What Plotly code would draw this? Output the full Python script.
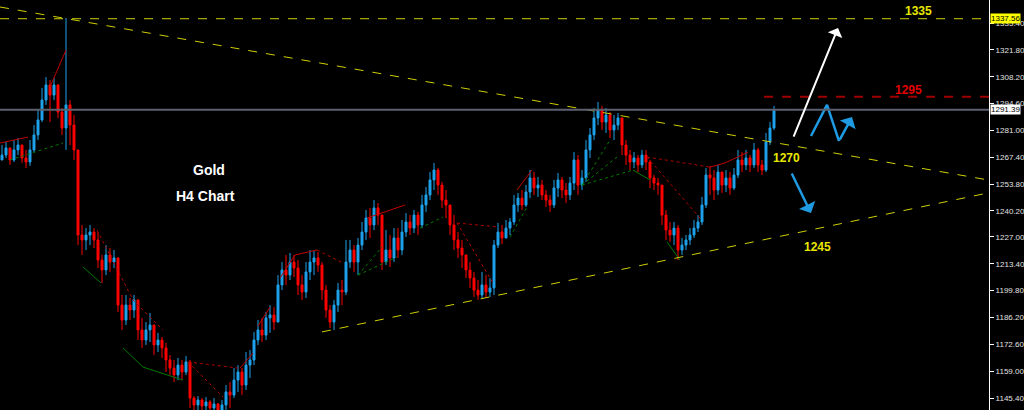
import plotly.graph_objects as go

# ---------------- price data (Gold H4) ----------------
open_first = 1266.0
close = [1268.5, 1272.1, 1266.0, 1271.1, 1273.6, 1267.0, 1265.0, 1271.1, 1278.7, 1286.3,
         1296.4, 1304.0, 1298.9, 1304.0, 1290.3, 1282.2, 1293.9, 1283.7, 1271.1, 1228.0,
         1225.5, 1228.0, 1229.5, 1225.5, 1215.3, 1210.3, 1217.9, 1214.3, 1216.4, 1192.5,
         1184.9, 1192.5, 1190.0, 1195.1, 1179.9, 1174.8, 1179.9, 1182.4, 1172.3, 1174.8,
         1170.8, 1164.7, 1160.6, 1157.1, 1162.1, 1158.6, 1163.7, 1145.4, 1141.9, 1144.4,
         1141.4, 1143.4, 1140.4, 1142.4, 1139.3, 1141.9, 1148.5, 1146.9, 1154.5, 1158.6,
         1152.0, 1162.1, 1164.7, 1174.8, 1179.9, 1177.3, 1186.0, 1187.5, 1183.9, 1202.7,
         1210.3, 1207.7, 1214.3, 1211.3, 1202.7, 1199.1, 1209.3, 1214.3, 1216.4, 1212.8,
         1200.1, 1190.0, 1183.9, 1192.5, 1200.1, 1199.1, 1214.3, 1220.4, 1214.3, 1222.9,
         1229.5, 1236.6, 1233.1, 1241.7, 1238.1, 1214.3, 1220.4, 1216.4, 1226.5, 1220.4,
         1229.5, 1234.6, 1231.5, 1238.1, 1233.1, 1243.2, 1248.3, 1255.9, 1260.9, 1253.3,
         1245.7, 1243.2, 1233.1, 1225.5, 1221.4, 1217.9, 1210.3, 1206.2, 1200.1, 1197.6,
         1202.7, 1199.1, 1201.2, 1222.9, 1229.5, 1226.5, 1231.5, 1234.6, 1243.2, 1246.7,
         1243.2, 1249.8, 1256.9, 1251.8, 1253.3, 1248.3, 1245.7, 1243.2, 1251.8, 1255.9,
         1250.8, 1248.3, 1254.3, 1266.0, 1253.3, 1256.9, 1271.1, 1278.7, 1287.3, 1291.3,
         1285.2, 1288.8, 1281.2, 1283.7, 1287.3, 1273.6, 1268.5, 1265.0, 1267.0, 1263.5,
         1268.5, 1265.0, 1256.9, 1254.3, 1253.3, 1238.1, 1230.5, 1228.0, 1231.5, 1220.4,
         1222.9, 1225.5, 1228.0, 1231.5, 1234.6, 1243.2, 1258.4, 1256.9, 1250.8, 1259.9,
         1253.3, 1256.9, 1251.8, 1258.4, 1266.0, 1263.5, 1267.0, 1263.5, 1271.1, 1263.5,
         1260.9, 1275.1, 1282.2, 1291.39]
high = [1273.6, 1275.1, 1272.1, 1276.1, 1277.1, 1273.6, 1271.1, 1276.1, 1283.7, 1291.3,
        1302.5, 1308.0, 1306.5, 1307.5, 1304.5, 1292.3, 1337.9, 1296.4, 1288.8, 1258.4,
        1233.1, 1231.5, 1233.1, 1231.5, 1229.5, 1217.9, 1222.9, 1221.4, 1220.4, 1216.4,
        1197.6, 1197.6, 1196.1, 1197.6, 1195.1, 1186.0, 1183.9, 1188.5, 1182.4, 1178.4,
        1176.3, 1173.3, 1167.2, 1164.7, 1165.7, 1164.7, 1166.7, 1164.7, 1146.4, 1146.4,
        1145.4, 1145.9, 1144.4, 1145.4, 1142.9, 1144.4, 1152.0, 1153.5, 1160.6, 1162.1,
        1160.6, 1168.7, 1169.7, 1178.9, 1184.9, 1186.0, 1189.0, 1192.5, 1191.5, 1207.7,
        1214.3, 1217.9, 1218.9, 1217.9, 1215.3, 1207.7, 1214.3, 1220.4, 1220.4, 1219.4,
        1214.3, 1202.7, 1192.5, 1195.1, 1203.7, 1205.2, 1225.5, 1225.5, 1222.9, 1226.5,
        1234.6, 1240.7, 1241.7, 1245.7, 1244.2, 1238.1, 1230.5, 1228.0, 1231.5, 1231.5,
        1235.6, 1239.1, 1238.1, 1240.7, 1239.7, 1248.3, 1252.3, 1259.9, 1264.5, 1261.9,
        1254.9, 1250.8, 1243.2, 1238.1, 1229.5, 1225.5, 1217.9, 1214.3, 1209.3, 1205.2,
        1209.3, 1207.7, 1206.2, 1225.5, 1234.1, 1233.1, 1235.6, 1236.6, 1248.3, 1249.3,
        1250.8, 1253.3, 1260.9, 1259.9, 1257.4, 1255.9, 1250.8, 1248.3, 1255.9, 1259.4,
        1257.4, 1254.3, 1257.4, 1270.0, 1268.5, 1260.9, 1276.1, 1282.2, 1292.3, 1295.4,
        1293.4, 1292.3, 1290.3, 1288.8, 1289.8, 1287.3, 1276.1, 1271.1, 1270.0, 1268.5,
        1271.1, 1271.1, 1266.0, 1258.4, 1256.9, 1253.3, 1240.7, 1234.6, 1234.6, 1233.1,
        1226.5, 1228.0, 1231.5, 1235.6, 1238.1, 1247.3, 1261.9, 1263.0, 1260.9, 1263.5,
        1259.9, 1260.9, 1259.9, 1261.9, 1271.1, 1270.0, 1271.1, 1268.5, 1274.6, 1272.1,
        1266.0, 1279.7, 1285.2, 1293.4]
low = [1266.0, 1267.0, 1263.5, 1265.0, 1268.5, 1264.5, 1261.9, 1263.0, 1270.0, 1276.1,
       1285.2, 1293.9, 1285.2, 1296.4, 1287.3, 1278.7, 1271.1, 1273.6, 1266.0, 1222.9,
       1217.9, 1220.4, 1222.9, 1221.4, 1211.3, 1203.7, 1207.7, 1209.3, 1211.3, 1189.0,
       1179.9, 1182.4, 1184.9, 1186.0, 1174.8, 1170.8, 1172.3, 1173.8, 1167.2, 1168.7,
       1165.7, 1158.6, 1157.1, 1153.5, 1154.5, 1154.5, 1157.1, 1140.4, 1136.8, 1138.3,
       1136.8, 1138.3, 1135.3, 1136.8, 1134.3, 1134.3, 1138.3, 1140.4, 1145.4, 1148.5,
       1146.9, 1149.5, 1155.6, 1162.1, 1172.3, 1173.8, 1174.8, 1178.4, 1179.9, 1186.0,
       1200.1, 1202.7, 1205.2, 1206.7, 1197.6, 1195.1, 1196.1, 1205.2, 1207.7, 1209.3,
       1195.1, 1186.0, 1180.9, 1179.9, 1189.0, 1192.5, 1197.6, 1211.3, 1209.3, 1207.7,
       1220.4, 1225.5, 1226.5, 1230.5, 1233.1, 1210.3, 1212.8, 1211.8, 1214.3, 1216.4,
       1217.9, 1227.0, 1228.0, 1229.0, 1228.0, 1231.5, 1239.7, 1245.7, 1250.8, 1248.3,
       1241.7, 1236.6, 1228.0, 1220.4, 1216.4, 1211.3, 1206.2, 1201.2, 1196.6, 1195.1,
       1196.1, 1196.6, 1196.6, 1197.6, 1221.4, 1223.4, 1227.0, 1228.0, 1233.1, 1239.7,
       1240.7, 1242.2, 1246.7, 1248.3, 1247.3, 1245.7, 1242.2, 1239.7, 1241.7, 1247.3,
       1246.7, 1244.2, 1245.7, 1250.8, 1248.3, 1250.8, 1254.9, 1267.0, 1276.1, 1283.7,
       1281.2, 1279.7, 1277.1, 1276.1, 1281.2, 1268.5, 1263.5, 1260.9, 1261.9, 1259.9,
       1261.9, 1260.9, 1251.8, 1250.8, 1248.3, 1233.1, 1225.5, 1224.5, 1222.9, 1215.3,
       1217.9, 1220.4, 1222.9, 1226.5, 1229.5, 1233.1, 1241.7, 1248.3, 1245.7, 1248.3,
       1249.3, 1249.8, 1248.3, 1250.8, 1256.9, 1259.9, 1260.9, 1259.9, 1261.9, 1259.9,
       1258.4, 1259.9, 1273.6, 1281.2]

# ---------------- axis ticks ----------------
tick_vals = [1145.40, 1159.00, 1172.60, 1186.20, 1199.80, 1213.40, 1227.00, 1240.20,
             1253.80, 1267.40, 1281.00, 1294.60, 1308.20, 1321.80, 1335.40]
tick_text = ["1145.40", "1159.00", "1172.60", "1186.20", "1199.80", "1213.40", "1227.00",
             "1240.20", "1253.80", "1267.40", "1281.00", "1294.60", "1308.20", "1321.80",
             "1335.40"]

# ---------------- drawn objects (bar index, price) ----------------
upper_trend = [(-0.5, 1343.5), (246.5, 1255.9)]
lower_trend = [(80.0, 1178.9), (246.5, 1249.3)]
level_top = 1337.56
level_last = 1291.39
level_red = 1298.0
level_red_start = 190.5

zz_red_solid = [
    [(-0.5, 1274.6), (6.5, 1277.6)],
    [(12, 1303.0), (16, 1321.7)],
    [(59.5, 1160.6), (62.75, 1168.2)],
    [(64, 1181.9), (67, 1191.5)],
    [(69.5, 1206.2), (73.25, 1217.9), (78.75, 1220.4)],
    [(91.25, 1236.6), (100.75, 1243.2)],
    [(128.75, 1250.8), (132.5, 1260.9)],
    [(177, 1262.4), (180.75, 1264.5), (186.5, 1270.0)],
]
zz_red_dot = [
    [(23.75, 1230.5), (32.75, 1195.1), (40.25, 1179.9)],
    [(46.5, 1163.7), (59, 1160.6)],
    [(46.5, 1163.7), (55.25, 1145.9)],
    [(78.75, 1220.4), (85.25, 1213.8)],
    [(113.75, 1234.1), (123.75, 1232.1)],
    [(113.75, 1234.1), (122.75, 1203.7)],
    [(161.25, 1267.5), (177, 1262.4)],
    [(161.25, 1267.5), (174.5, 1236.6)],
]
zz_green_solid = [
    [(20.25, 1211.8), (24.75, 1203.7)],
    [(30.25, 1170.8), (35.25, 1161.1), (45.25, 1154.5)],
    [(157.75, 1260.9), (162, 1255.9)],
    [(166.25, 1224.5), (169.5, 1215.3)],
]
zz_green_dot = [
    [(2, 1266.0), (15.25, 1274.6)],
    [(89, 1207.7), (95, 1221.9)],
    [(89, 1207.7), (98.75, 1216.9)],
    [(104.5, 1231.5), (110.25, 1237.1)],
    [(127, 1227.0), (131.25, 1242.2)],
    [(145, 1253.3), (152, 1276.1)],
    [(145, 1253.3), (153.75, 1267.5)],
    [(145, 1253.3), (157.75, 1260.9)],
]

white_arrow = [(197.75, 1277.1), (209.0, 1332.9)]
blue_zigzag = [(202.25, 1278.15), (206.25, 1293.9), (209.25, 1275.6), (212.5, 1287.8)]
blue_down = [(197.25, 1259.9), (202.25, 1239.1)]

labels_yellow = [("1335", 229.0, 1341.5), ("1270", 196.0, 1267.0), ("1245", 203.75, 1221.9)]
label_red = ("1295", 226.5, 1301.4)
title_lines = [("Gold", 51.75, 1260.9), ("H4 Chart", 50.75, 1247.8)]

BLUE = "#1EA3EC"
RED = "#FF0000"

bars = list(range(len(close)))
opens = [open_first] + close[:-1]
hi = [max(h, o, c) for h, o, c in zip(high, opens, close)]
lo = [min(l, o, c) for l, o, c in zip(low, opens, close)]

fig = go.Figure()
fig.add_trace(go.Candlestick(
    x=bars, open=opens, high=hi, low=lo, close=close,
    increasing=dict(line=dict(color=BLUE, width=1), fillcolor=BLUE),
    decreasing=dict(line=dict(color=RED, width=1), fillcolor=RED),
    whiskerwidth=0, hoverinfo="skip",
))


def polylines(groups):
    xs, ys = [], []
    for g in groups:
        for px, py in g:
            xs.append(px)
            ys.append(py)
        xs.append(None)
        ys.append(None)
    return xs, ys


for groups, color, dash in [(zz_red_solid, "#C00000", "solid"),
                            (zz_red_dot, "#B00000", "dot"),
                            (zz_green_solid, "#007A00", "solid"),
                            (zz_green_dot, "#007A00", "dot")]:
    xs, ys = polylines(groups)
    fig.add_trace(go.Scatter(x=xs, y=ys, mode="lines",
                             line=dict(color=color, width=1, dash=dash),
                             hoverinfo="skip"))

# trend lines and levels
YEL = "#CFCF00"
shapes = []
for (x0, y0), (x1, y1) in [upper_trend, lower_trend]:
    shapes.append(dict(type="line", xref="x", yref="y", x0=x0, y0=y0, x1=x1, y1=y1,
                       line=dict(color=YEL, width=1, dash="dash")))
shapes.append(dict(type="line", xref="paper", yref="y", x0=0, x1=1, y0=level_top, y1=level_top,
                   line=dict(color=YEL, width=1, dash="dash")))
shapes.append(dict(type="line", xref="paper", yref="y", x0=0, x1=1, y0=level_last, y1=level_last,
                   line=dict(color="#5C6170", width=2)))
shapes.append(dict(type="line", xref="x", yref="y", x0=level_red_start, x1=246.75,
                   y0=level_red, y1=level_red,
                   line=dict(color="#A00000", width=2, dash="dash")))
fig.update_layout(shapes=shapes)

# blue zigzag projection
fig.add_trace(go.Scatter(x=[p[0] for p in blue_zigzag[:3]], y=[p[1] for p in blue_zigzag[:3]],
                         mode="lines", line=dict(color="#1E9BE2", width=2.5), hoverinfo="skip"))

ann = []
ann.append(dict(x=white_arrow[1][0], y=white_arrow[1][1], ax=white_arrow[0][0], ay=white_arrow[0][1],
                xref="x", yref="y", axref="x", ayref="y", text="", showarrow=True,
                arrowhead=1, arrowsize=1.3, arrowwidth=2, arrowcolor="white"))
ann.append(dict(x=blue_zigzag[3][0], y=blue_zigzag[3][1], ax=blue_zigzag[2][0], ay=blue_zigzag[2][1],
                xref="x", yref="y", axref="x", ayref="y", text="", showarrow=True,
                arrowhead=1, arrowsize=1.2, arrowwidth=2.5, arrowcolor="#1E9BE2"))
ann.append(dict(x=blue_down[1][0], y=blue_down[1][1], ax=blue_down[0][0], ay=blue_down[0][1],
                xref="x", yref="y", axref="x", ayref="y", text="", showarrow=True,
                arrowhead=1, arrowsize=1.2, arrowwidth=2.5, arrowcolor="#1E9BE2"))
for t, x, y in labels_yellow:
    ann.append(dict(x=x, y=y, xref="x", yref="y", text="<b>%s</b>" % t, showarrow=False,
                    font=dict(family="Liberation Sans", size=12, color="#E8E800")))
ann.append(dict(x=label_red[1], y=label_red[2], xref="x", yref="y", text="<b>%s</b>" % label_red[0],
                showarrow=False, font=dict(family="Liberation Sans", size=12, color="#E00000")))
for t, x, y in title_lines:
    ann.append(dict(x=x, y=y, xref="x", yref="y", text="<b>%s</b>" % t, showarrow=False,
                    font=dict(family="Liberation Sans", size=14, color="white")))
# price boxes on the axis
ann.append(dict(x=1, y=level_top, xref="paper", yref="y", xanchor="left", xshift=1,
                text="%.2f" % level_top, showarrow=False, bgcolor="#FFFF00", borderpad=0,
                font=dict(family="Liberation Sans", size=8, color="black")))
ann.append(dict(x=1, y=level_last, xref="paper", yref="y", xanchor="left", xshift=1,
                text="%.2f" % level_last, showarrow=False, bgcolor="white", borderpad=0,
                font=dict(family="Liberation Sans", size=8, color="black")))
fig.update_layout(annotations=ann)

fig.update_layout(
    width=1024, height=410,
    margin=dict(l=0, r=35, t=0, b=0),
    paper_bgcolor="black", plot_bgcolor="black",
    showlegend=False,
    xaxis=dict(visible=False, range=[-0.5, 246.75], rangeslider=dict(visible=False)),
    yaxis=dict(side="right", range=[1139.35, 1347.05], tickvals=tick_vals, ticktext=tick_text,
               showgrid=False, zeroline=False, showline=True, linecolor="white", linewidth=1,
               ticks="outside", ticklen=4, tickcolor="white",
               tickfont=dict(family="Liberation Sans", size=8, color="#E0E0E0")),
)

fig.write_html("out.html", config={"displayModeBar": False},
               post_script="document.body.style.margin='0';document.body.style.overflow='hidden';")
